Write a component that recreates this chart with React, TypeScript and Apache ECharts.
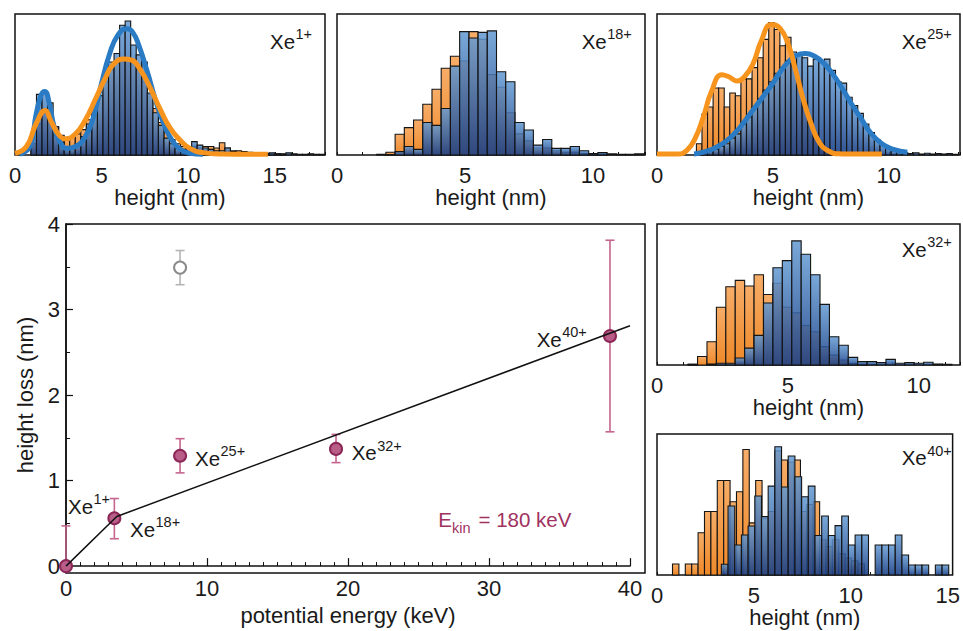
import React, { useEffect, useRef } from 'react';
import * as echarts from 'echarts';

const FONT = '"Liberation Sans", Arial, sans-serif';

// ---------------- main chart data ----------------
const ionBase = ['Xe', 'Xe', 'Xe', 'Xe', 'Xe'];
const ionCharge = ['1+', '18+', '25+', '32+', '40+'];
const potentialEnergy = [0, 3.43, 8.09, 19.15, 38.58];
const heightLoss = [0, 0.56, 1.29, 1.37, 2.69];
const heightLossLow = [0, 0.32, 1.09, 1.21, 1.57];
const heightLossHigh = [0.47, 0.79, 1.49, 1.54, 3.81];
const outlierEnergy = [8.09];
const outlierLoss = [3.49];
const outlierLow = [3.29];
const outlierHigh = [3.69];
const fitEnergy = [0, 3.6, 40];
const fitLoss = [0, 0.58, 2.81];

// ---------------- histogram data (blue = pristine, orange = irradiated) ----------------
const xe1BinStart = 0.92;
const xe1BinWidth = 0.32;
const xe1Pristine = [16, 43, 44, 37, 20, 9, 5, 5, 8, 13, 22, 30, 42, 55, 66, 72, 92, 95, 78, 71, 66, 44, 30, 21, 12, 8, 5, 4, 6, 9.5, 7, 5, 4, 3, 3, 5, 2.5, 2, 1.5, 1.5, 1.2, 1.2, 1, 1.5, 0.8, 0.8, 1.5, 0.8, 0.5, 0.5, 0.8, 0.5, 0.5];
const xe1Irradiated = [8, 22, 30, 27, 20, 14, 12, 13, 15, 18, 25, 33, 42, 52, 60, 65, 68, 68, 66, 60, 52, 43, 33, 23, 16, 11, 8, 6, 5, 6, 5, 6, 6, 5, 8.7, 5, 3, 3, 2.5, 2, 1.5, 1.5, 1.2, 1, 0.8, 0.5];
const xe1FitPristineX = [0.28, 0.85, 1.23, 1.51, 1.72, 1.98, 2.26, 2.64, 3.02, 3.49, 4.06, 4.53, 5.0, 5.47, 5.94, 6.45, 6.8, 7.17, 7.64, 8.11, 8.58, 9.06, 9.62, 10.1, 10.85];
const xe1FitPristineY = [0.7, 6, 29.5, 42.5, 45, 36.6, 20, 8.3, 4.7, 6, 13, 27, 51, 72, 85, 89.5, 87, 77, 59, 39, 22.5, 10.6, 3.5, 1.2, 0.5];
const xe1FitIrradiatedX = [0, 0.66, 1.23, 1.74, 2.08, 2.55, 2.92, 3.49, 4.06, 4.62, 5.19, 5.66, 6.3, 6.7, 7.26, 7.83, 8.4, 8.96, 9.53, 10.1, 10.85, 12, 13.5, 14.6];
const xe1FitIrradiatedY = [1.2, 6, 22.5, 31.5, 24, 14, 11.5, 15, 24.8, 39, 54, 64, 68, 67.4, 60, 47, 32, 19, 10.6, 4.7, 1.7, 0.7, 0.5, 0.5];

const xe18BinStart = 1.55;
const xe18BinWidth = 0.36;
const xe18Pristine = [0.5, 0.3, 2.4, 6, 4, 23, 21, 33, 63, 87.5, 83, 87, 88, 59, 52, 23, 17.7, 7, 11, 4.7, 4.7, 6, 3, 1, 1.7, 0.8, 0.5, 0.5, 0.8];
const xe18Irradiated = [0, 2, 14.7, 19.4, 24.8, 36, 46.6, 61.5, 70, 66.7, 87.5, 82, 57, 48, 30, 15, 10, 5, 5, 3, 2, 2, 1, 0.5, 0.5];

const xe25BinStart = 1.7;
const xe25BinWidth = 0.24;
const xe25Pristine = [1, 2, 3, 4, 6, 8, 12, 15, 22, 27, 34, 40, 46, 52, 58, 62, 67, 73, 71.6, 69, 63, 68, 66, 68, 60, 52, 51, 41, 35, 29.5, 22, 16, 11, 7, 5, 3, 2, 1.5, 1, 1.5, 0.7, 1.2, 0.7, 1, 0.7, 1, 0.5];
const xe25Irradiated = [8, 29, 34, 47.5, 47.5, 34, 44, 42, 54, 54, 62, 69, 82, 94, 89, 77.5, 83.5, 65, 50, 38, 25, 15, 9, 5, 3, 2, 1];
const xe25FitPristineX = [1.6, 2.0, 2.5, 3.0, 3.5, 4.1, 4.6, 5.0, 5.5, 6.0, 6.4, 6.8, 7.2, 7.6, 8.0, 8.4, 8.8, 9.2, 9.7, 10.2, 10.8];
const xe25FitPristineY = [0.7, 2, 5, 10, 18, 31, 42, 51, 63, 70.5, 72, 70, 65, 57, 47, 36, 26, 16, 8, 4, 2];
const xe25FitIrradiatedX = [0, 0.9, 1.3, 1.65, 2.0, 2.35, 2.8, 3.1, 3.45, 3.8, 4.15, 4.5, 4.93, 5.3, 5.65, 5.95, 6.3, 6.65, 7.0, 7.4, 7.9, 9.7];
const xe25FitIrradiatedY = [0.7, 0.7, 3.5, 12, 27, 45, 57, 55.5, 52.5, 56, 65, 81, 92.5, 90, 79, 62, 40, 22, 9, 2.8, 0.8, 0.7];

const xe32BinStart = 1.19;
const xe32BinWidth = 0.36;
const xe32Pristine = [0.5, 0, 0.7, 1.2, 1.2, 5, 12, 21, 44, 69, 74, 88, 78.5, 64, 43, 20, 14, 5.4, 2.4, 2.4, 1.7, 4, 1.2, 1.7, 1.2, 1.9, 0.7, 0.5];
const xe32Irradiated = [0.5, 6, 16.5, 41, 55.5, 60, 56, 64, 50, 58, 41, 37, 28, 23.6, 13, 7, 3.5, 1, 0.5];

const xe40PristineStart = 3.32;
const xe40PristineWidth = 0.345;
const xe40Pristine = [7.6, 48.9, 21.3, 28.4, 34.8, 56, 41.4, 63, 91, 62.4, 84.4, 69.7, 55.5, 63, 28, 41.8, 28, 35, 41.8, 21.3, 28.4, 28.4, 0, 21.3, 21.3, 21.3, 28.4, 14.2, 7.1, 7.1, 7.1, 0, 7.1, 7.1];
const xe40IrradiatedStart = 0.8;
const xe40IrradiatedWidth = 0.33;
const xe40Irradiated = [7.8, 0, 7.8, 7.8, 30, 45, 45, 67, 67, 52, 59, 89, 37, 67, 40, 45, 88, 81.6, 80, 81.6, 45, 50, 52, 25, 20, 25, 15, 12, 10, 8];

// ---------------- layout ----------------
const panels = [
  { left: 15, top: 14, width: 310, xMax: 17.9, lx: 270, ly: 30.7, charge: '1+',
    orange: [xe1BinStart, xe1BinWidth, xe1Irradiated], blue: [xe1BinStart, xe1BinWidth, xe1Pristine],
    fitBlue: [xe1FitPristineX, xe1FitPristineY], fitOrange: [xe1FitIrradiatedX, xe1FitIrradiatedY] },
  { left: 337, top: 14, width: 308, xMax: 12.03, lx: 581.7, ly: 30.7, charge: '18+',
    orange: [xe18BinStart, xe18BinWidth, xe18Irradiated], blue: [xe18BinStart, xe18BinWidth, xe18Pristine] },
  { left: 657, top: 14, width: 308, xMax: 13.07, lx: 901.7, ly: 30.7, charge: '25+',
    orange: [xe25BinStart, xe25BinWidth, xe25Irradiated], blue: [xe25BinStart, xe25BinWidth, xe25Pristine],
    fitBlue: [xe25FitPristineX, xe25FitPristineY], fitOrange: [xe25FitIrradiatedX, xe25FitIrradiatedY] },
  { left: 657, top: 224, width: 308, xMax: 11.58, lx: 901.7, ly: 239, charge: '32+',
    orange: [xe32BinStart, xe32BinWidth, xe32Irradiated], blue: [xe32BinStart, xe32BinWidth, xe32Pristine] },
  { left: 657, top: 434, width: 308, xMax: 15.25, lx: 901.7, ly: 447.4, charge: '40+',
    orange: [xe40IrradiatedStart, xe40IrradiatedWidth, xe40Irradiated], blue: [xe40PristineStart, xe40PristineWidth, xe40Pristine] },
];

const mainLabelPos = [[68, 495.7], [130, 519], [195, 448], [351.7, 442.4], [536.7, 329]];

const TEXT = '#1a1a1a';
const CRIMSON = '#a0325f';
const AXIS_FS = 22;

function supLabel(x: number, y: number, base: string, sup: string, color = TEXT) {
  return {
    type: 'group',
    children: [
      { type: 'text', x, y, style: { text: base, fontSize: 20.5, fontFamily: FONT, fill: color, verticalAlign: 'top' } },
      { type: 'text', x: x + 25.5, y: y - 4.3, style: { text: sup, fontSize: 14.5, fontFamily: FONT, fill: color, verticalAlign: 'top' } },
    ],
  };
}

function histSeries(idx: number, start: number, width: number, counts: number[], fill: any, z: number) {
  return {
    type: 'custom',
    coordinateSystem: 'cartesian2d',
    xAxisIndex: idx,
    yAxisIndex: idx,
    z,
    silent: true,
    data: counts.map((c, i) => [start + i * width, start + (i + 1) * width, c]),
    encode: { x: [0, 1], y: 2 },
    renderItem: (params: any, api: any) => {
      const h = api.value(2);
      if (!h) return { type: 'group', children: [] };
      const p0 = api.coord([api.value(0), 0]);
      const p1 = api.coord([api.value(1), h]);
      return {
        type: 'rect',
        shape: { x: p0[0], y: p1[1], width: p1[0] - p0[0], height: p0[1] - p1[1] },
        style: { fill, stroke: '#151515', lineWidth: 1.1 },
      };
    },
  };
}

function errorSeries(xs: number[], lo: number[], hi: number[], color: string, z: number) {
  return {
    type: 'custom',
    coordinateSystem: 'cartesian2d',
    xAxisIndex: 0,
    yAxisIndex: 0,
    z,
    silent: true,
    clip: false,
    data: xs.map((x, i) => [x, lo[i], hi[i]]),
    encode: { x: 0, y: [1, 2] },
    renderItem: (params: any, api: any) => {
      const pl = api.coord([api.value(0), api.value(1)]);
      const ph = api.coord([api.value(0), api.value(2)]);
      const c = 4.5;
      const st = { stroke: color, lineWidth: 1.6 };
      return {
        type: 'group',
        children: [
          { type: 'line', shape: { x1: pl[0], y1: pl[1], x2: ph[0], y2: ph[1] }, style: st },
          { type: 'line', shape: { x1: ph[0] - c, y1: ph[1], x2: ph[0] + c, y2: ph[1] }, style: st },
          { type: 'line', shape: { x1: pl[0] - c, y1: pl[1], x2: pl[0] + c, y2: pl[1] }, style: st },
        ],
      };
    },
  };
}

function buildOption() {
  const orangeFill = new echarts.graphic.LinearGradient(0, 0, 0, 1, [
    { offset: 0, color: '#f7ad68' },
    { offset: 1, color: '#ee8828' },
  ]);
  const blueFill = new echarts.graphic.LinearGradient(0, 0, 0, 1, [
    { offset: 0, color: 'rgba(100,154,210,0.86)' },
    { offset: 1, color: 'rgba(26,64,135,0.9)' },
  ]);

  const grids: any[] = [{ left: 66, top: 224, width: 564, height: 349 }];
  const xAxes: any[] = [{
    gridIndex: 0, type: 'value', min: 0, max: 40, interval: 10,
    axisLine: { show: true, lineStyle: { color: '#111', width: 1.5 } },
    axisTick: { show: true, inside: true, length: 8, lineStyle: { color: '#111', width: 1.2 } },
    minorTick: { show: true, splitNumber: 10, length: 4, lineStyle: { color: '#111', width: 1 } },
    splitLine: { show: false },
    axisLabel: { fontSize: AXIS_FS, fontFamily: FONT, color: TEXT, margin: 11 },
    name: 'potential energy (keV)', nameLocation: 'middle', nameGap: 22,
    nameTextStyle: { fontSize: AXIS_FS, fontFamily: FONT, color: TEXT },
  }];
  const yAxes: any[] = [{
    gridIndex: 0, type: 'value', min: 0, max: 4, interval: 1,
    axisLine: { show: true, lineStyle: { color: '#111', width: 1.5 } },
    axisTick: { show: true, inside: true, length: 7, lineStyle: { color: '#111', width: 1.2 } },
    minorTick: { show: true, splitNumber: 2, length: 4, lineStyle: { color: '#111', width: 1 } },
    splitLine: { show: false },
    axisLabel: { fontSize: AXIS_FS, fontFamily: FONT, color: TEXT, margin: 6 },
    name: 'height loss (nm)', nameLocation: 'middle', nameGap: 29,
    nameTextStyle: { fontSize: AXIS_FS, fontFamily: FONT, color: TEXT },
  }];

  const series: any[] = [
    errorSeries(potentialEnergy, heightLossLow, heightLossHigh, '#c5658f', 3),
    errorSeries(outlierEnergy, outlierLow, outlierHigh, '#b4b4b4', 3),
    {
      type: 'scatter', xAxisIndex: 0, yAxisIndex: 0, z: 4, clip: false, silent: true,
      symbol: 'circle', symbolSize: 12,
      itemStyle: { color: '#b95d88', borderColor: '#8c2656', borderWidth: 2, opacity: 1 },
      data: potentialEnergy.map((x, i) => [x, heightLoss[i]]),
    },
    {
      type: 'scatter', xAxisIndex: 0, yAxisIndex: 0, z: 4, clip: false, silent: true,
      symbol: 'circle', symbolSize: 12,
      itemStyle: { color: '#ffffff', borderColor: '#8a8a8a', borderWidth: 2, opacity: 1 },
      data: outlierEnergy.map((x, i) => [x, outlierLoss[i]]),
    },
    {
      type: 'line', xAxisIndex: 0, yAxisIndex: 0, z: 5, silent: true,
      symbol: 'none', lineStyle: { color: '#111', width: 1.5 },
      data: fitEnergy.map((x, i) => [x, fitLoss[i]]),
    },
  ];

  const graphics: any[] = [
    { type: 'rect', z: 1, silent: true, shape: { x: 66, y: 224, width: 579, height: 349 },
      style: { fill: 'none', stroke: '#111', lineWidth: 1.5 } },
  ];

  panels.forEach((p, k) => {
    const idx = k + 1;
    grids.push({ left: p.left, top: p.top, width: p.width, height: 141, show: true, borderColor: '#111', borderWidth: 1.5, backgroundColor: 'transparent' });
    xAxes.push({
      gridIndex: idx, type: 'value', min: 0, max: p.xMax, interval: 1,
      axisLine: { show: false },
      axisTick: { show: true, inside: true, length: 3, lineStyle: { color: '#111', width: 1 } },
      splitLine: { show: false },
      axisLabel: {
        fontSize: AXIS_FS, fontFamily: FONT, color: TEXT, margin: 9,
        formatter: (v: number) => (Math.abs(v % 5) < 1e-9 ? String(v) : ''),
      },
      name: 'height (nm)', nameLocation: 'middle', nameGap: 27,
      nameTextStyle: { fontSize: AXIS_FS, fontFamily: FONT, color: TEXT },
    });
    yAxes.push({ gridIndex: idx, type: 'value', min: 0, max: 100, show: false });
    series.push(histSeries(idx, p.orange[0] as number, p.orange[1] as number, p.orange[2] as number[], orangeFill, 1));
    series.push(histSeries(idx, p.blue[0] as number, p.blue[1] as number, p.blue[2] as number[], blueFill, 2));
    if (p.fitBlue) {
      series.push({
        type: 'line', xAxisIndex: idx, yAxisIndex: idx, z: 3, silent: true, symbol: 'none',
        smooth: 0.5,
        lineStyle: { color: '#2a7bc4', width: 5 },
        data: p.fitBlue[0].map((x: number, i: number) => [x, p.fitBlue![1][i]]),
      });
    }
    if (p.fitOrange) {
      series.push({
        type: 'line', xAxisIndex: idx, yAxisIndex: idx, z: 4, silent: true, symbol: 'none',
        smooth: 0.5,
        lineStyle: { color: '#f7941e', width: 5 },
        data: p.fitOrange[0].map((x: number, i: number) => [x, p.fitOrange![1][i]]),
      });
    }
    graphics.push(supLabel(p.lx, p.ly, 'Xe', p.charge));
  });

  ionBase.forEach((b, i) => {
    graphics.push(supLabel(mainLabelPos[i][0], mainLabelPos[i][1], b, ionCharge[i]));
  });

  graphics.push({
    type: 'group',
    children: [
      { type: 'text', x: 438.3, y: 509, style: { text: 'E', fontSize: 20.5, fontFamily: FONT, fill: CRIMSON, verticalAlign: 'top' } },
      { type: 'text', x: 452, y: 520, style: { text: 'kin', fontSize: 14.5, fontFamily: FONT, fill: CRIMSON, verticalAlign: 'top' } },
      { type: 'text', x: 478.5, y: 509, style: { text: '= 180 keV', fontSize: 20.5, fontFamily: FONT, fill: CRIMSON, verticalAlign: 'top' } },
    ],
  });

  return {
    animation: false,
    backgroundColor: '#ffffff',
    textStyle: { fontFamily: FONT },
    grid: grids,
    xAxis: xAxes,
    yAxis: yAxes,
    series,
    graphic: graphics,
  };
}

export default function App() {
  const ref = useRef<HTMLDivElement>(null);
  useEffect(() => {
    document.body.style.margin = '0';
    const chart = echarts.init(ref.current!, null, { renderer: 'svg' });
    chart.setOption(buildOption() as any);
    return () => chart.dispose();
  }, []);
  return <div ref={ref} style={{ width: 963, height: 631 }} />;
}
